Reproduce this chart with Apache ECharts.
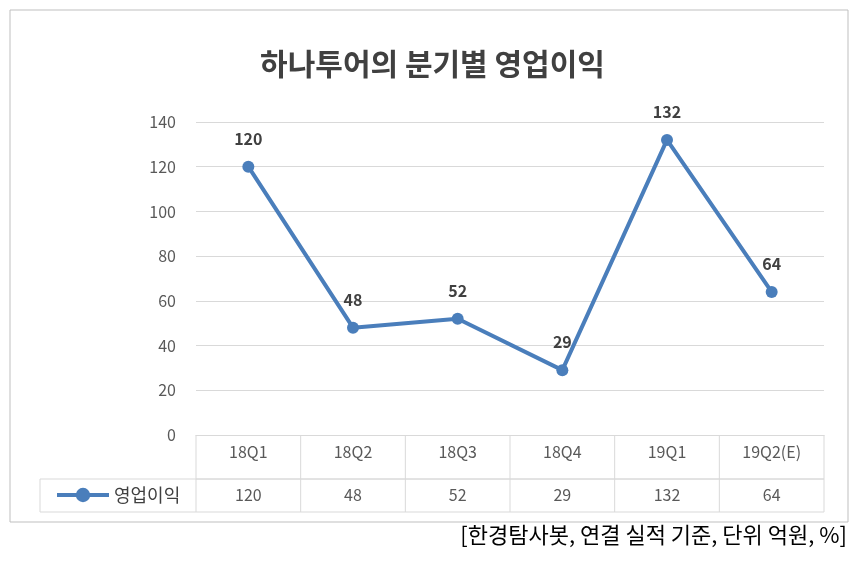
<!DOCTYPE html>
<html><head><meta charset="utf-8">
<script src="https://cdn.jsdelivr.net/npm/echarts@6/dist/echarts.min.js"></script>
<style>html,body{margin:0;padding:0;background:#fff}#c{width:865px;height:565px}</style>
</head><body><div id="c"></div>
<script>
const categories = ["18Q1", "18Q2", "18Q3", "18Q4", "19Q1", "19Q2(E)"];
const profit = [120, 48, 52, 29, 132, 64];
const seriesName = "영업이익";
const yTicks = [0, 20, 40, 60, 80, 100, 120, 140];

const font = "'Noto Sans CJK KR', 'Noto Sans', sans-serif";
const G = { left: 196, right: 41, top: 122, bottom: 130 }; // plot 196..824, 122..435
const W = 865, H = 565;
const x0 = G.left, x1 = W - G.right, yBase = H - G.bottom;
const colW = (x1 - x0) / categories.length;
const lineStyle = { stroke: "#d9d9d9", lineWidth: 1 };

// table lines
const tableLines = [];
const hl = (xa, xb, y) => tableLines.push({ type: "line", shape: { x1: xa, y1: y, x2: xb, y2: y }, style: lineStyle, silent: true });
const vl = (x, ya, yb) => tableLines.push({ type: "line", shape: { x1: x, y1: ya, x2: x, y2: yb }, style: lineStyle, silent: true });
hl(x0, x1, yBase + 44);
hl(40, x1, yBase + 44);
hl(40, x1, yBase + 77);
for (let i = 0; i <= categories.length; i++) vl(x0 + i * colW, yBase, yBase + 77);
vl(40, yBase + 44, yBase + 77);

const chart = echarts.init(document.getElementById("c"));
chart.setOption({
  animation: false,
  title: {
    text: "하나투어의 분기별 영업이익", left: "center", top: 44,
    textStyle: { fontFamily: font, fontSize: 30, fontWeight: "bold", color: "#404040" }
  },
  legend: {
    left: 50, top: yBase + 46, itemWidth: 52, itemHeight: 18,
    textStyle: { fontFamily: font, fontSize: 18, color: "#404040" },
    data: [{ name: seriesName, itemStyle: { color: "#4a7ebb" }, lineStyle: { width: 4 } }]
  },
  grid: G,
  xAxis: [{
    type: "category", data: categories, position: "bottom",
    axisLine: { lineStyle: { color: "#d9d9d9" } }, axisTick: { show: false },
    axisLabel: { fontFamily: font, fontSize: 16, color: "#595959", margin: 9 }
  }, {
    type: "category", data: profit.map(String), position: "bottom", offset: 44,
    axisLine: { show: false }, axisTick: { show: false },
    axisLabel: { fontFamily: font, fontSize: 16, color: "#595959", margin: 8 }
  }],
  yAxis: {
    type: "value", min: 0, max: 140, interval: 20,
    axisLine: { show: false }, axisTick: { show: false },
    splitLine: { lineStyle: { color: "#d9d9d9" } },
    axisLabel: { fontFamily: font, fontSize: 16, color: "#595959", margin: 20 }
  },
  series: [{
    name: seriesName, type: "line", data: profit,
    symbol: "circle", symbolSize: 12,
    lineStyle: { width: 4, color: "#4a7ebb" }, itemStyle: { color: "#4a7ebb" },
    label: { show: true, position: "top", distance: 14, fontFamily: font, fontSize: 16, fontWeight: "bold", color: "#404040" }
  }],
  graphic: [
    { type: "rect", shape: { x: 10, y: 10, width: 838, height: 512 }, style: { fill: "none", stroke: "#bfbfbf", lineWidth: 1 }, silent: true },
    ...tableLines,
    { type: "text", right: 18, top: 524, style: { text: "[한경탐사봇, 연결 실적 기준, 단위 억원, %]", font: "22px " + font, fill: "#000" } }
  ]
});
</script></body></html>
